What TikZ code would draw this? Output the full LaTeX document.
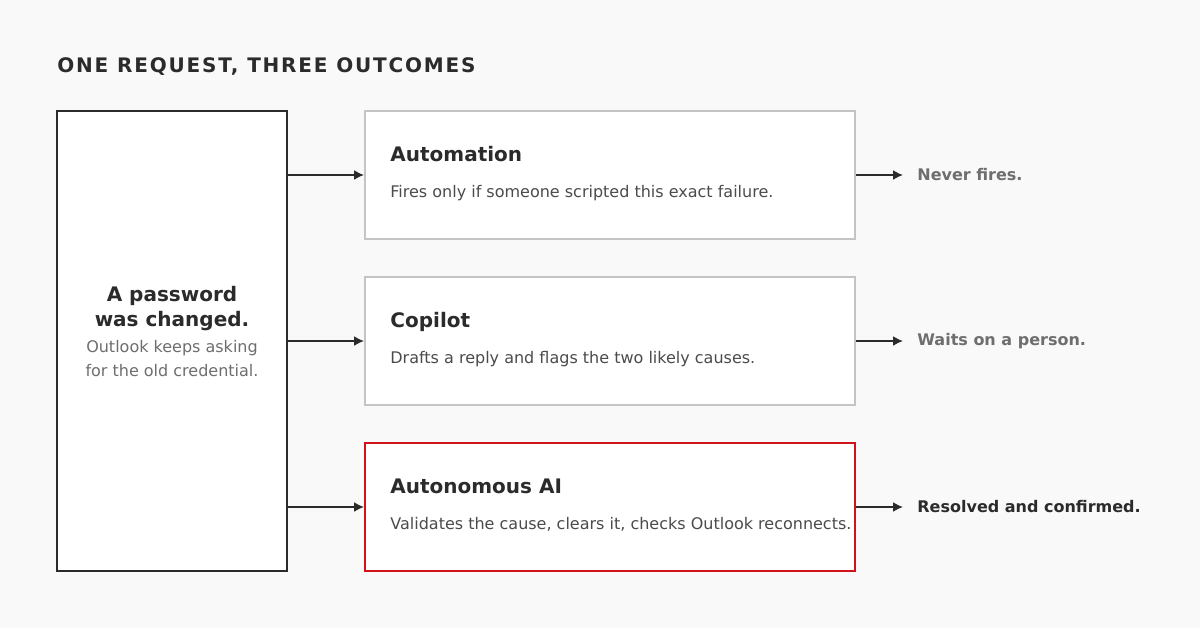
\documentclass[tikz,border=0pt]{standalone}
\usepackage{fontspec}
\setmainfont{DejaVu Sans}
\newfontfamily\spacedfont[LetterSpace=9]{DejaVu Sans}
\usetikzlibrary{arrows.meta,positioning}
\definecolor{bgcol}{HTML}{F9F9F9}
\definecolor{inkcol}{HTML}{2B2B2B}
\definecolor{greycol}{HTML}{6E6E6E}
\definecolor{framecol}{HTML}{C4C4C4}
\definecolor{alertcol}{HTML}{D0121B}

\begin{document}
\begin{tikzpicture}[
    x=0.5pt, y=-0.5pt,
    every node/.style={text=inkcol},
    outcome/.style={draw=framecol, line width=1pt, fill=white, minimum width=245pt, minimum height=64pt, anchor=north west},
    heading/.style={font=\fontsize{10}{12}\selectfont\bfseries, anchor=base west, inner sep=0},
    detail/.style={font=\fontsize{8}{10}\selectfont, text=inkcol!85, anchor=base west, inner sep=0},
    result/.style={font=\fontsize{8}{10}\selectfont\bfseries, text=greycol, anchor=west, inner sep=0},
    link/.style={-{Latex[length=5pt,width=5pt]}, draw=inkcol, line width=0.8pt}]
\fill[bgcol] (0,0) rectangle (1200,628);
\useasboundingbox (0,0) rectangle (1200,628);

\node[font=\spacedfont\fontsize{10}{12}\selectfont\bfseries, anchor=base west, inner sep=0] (title) at (57,72) {ONE REQUEST, THREE OUTCOMES};

% source
\node[draw=inkcol, line width=1pt, fill=white, minimum width=115pt, minimum height=230pt, anchor=north west] (request) at (56,110) {};
\node[font=\fontsize{10}{12.5}\selectfont\bfseries, align=center, inner sep=0] (claim) at (172,309) {A password\\was changed.};
\node[font=\fontsize{8}{12}\selectfont, text=greycol, align=center, inner sep=0, below=4pt of claim] (symptom) {Outlook keeps asking\\for the old credential.};

% outcomes
\node[outcome] (automation) at (364,110) {};
\node[outcome] (copilot) at (364,276) {};
\node[outcome, draw=alertcol] (autonomous) at (364,442) {};

\node[heading] (automationHead) at (390,161) {Automation};
\node[detail] (automationText) at (390,197) {Fires only if someone scripted this exact failure.};
\node[heading] (copilotHead) at (390,327) {Copilot};
\node[detail] (copilotText) at (390,363) {Drafts a reply and flags the two likely causes.};
\node[heading] (autonomousHead) at (390,493) {Autonomous AI};
\node[detail] (autonomousText) at (390,529) {Validates the cause, clears it, checks Outlook reconnects.};

\node[result] (never) at (917,175) {Never fires.};
\node[result] (waits) at (917,341) {Waits on a person.};
\node[result, text=inkcol] (resolved) at (917,507) {Resolved and confirmed.};

\coordinate (r1) at (288,175);
\coordinate (r2) at (288,341);
\coordinate (r3) at (288,507);
\draw[link] (r1) -- (r1 -| automation.west);
\draw[link] (r2) -- (r2 -| copilot.west);
\draw[link] (r3) -- (r3 -| autonomous.west);
\draw[link] (never -| automation.east) -- ([xshift=-7pt]never.west);
\draw[link] (waits -| copilot.east) -- ([xshift=-7pt]waits.west);
\draw[link] (resolved -| autonomous.east) -- ([xshift=-7pt]resolved.west);
\end{tikzpicture}
\end{document}
